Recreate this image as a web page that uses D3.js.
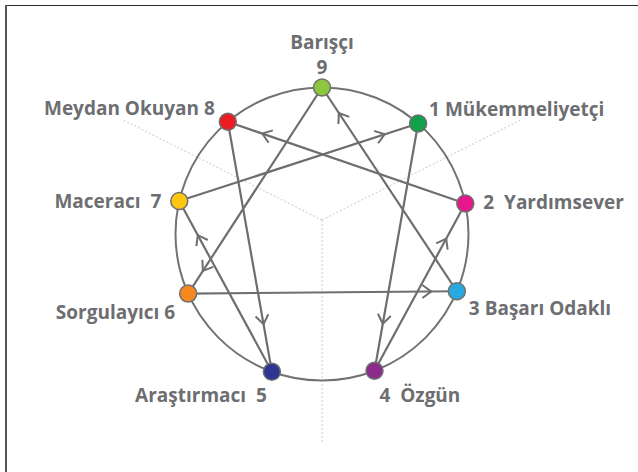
<!DOCTYPE html>
<html>
<head>
<meta charset="utf-8">
<script src="https://cdn.jsdelivr.net/npm/d3@7"></script>
<style>
	body { margin: 0; background: #fff; }
	text { font-family: "Open Sans", sans-serif; font-weight: 700; fill: #6d6e71; white-space: pre; }
</style>
</head>
<body>
<div id="chart"></div>
<script>
// enneagram types, in clockwise order from the top
var typeNo = [9, 1, 2, 3, 4, 5, 6, 7, 8];
var typeLabel = ["Barışçı", "1 Mükemmeliyetçi", "2  Yardımsever", "3 Başarı Odaklı", "4  Özgün",
	"Araştırmacı  5", "Sorgulayıcı 6", "Maceracı  7", "Meydan Okuyan 8"];
var typeAngle = [0, 41, 78, 113, 159, 200, 246, 283, 320]; // degrees, clockwise from top
var typeColor = ["#8dc63f", "#12a04a", "#e8168b", "#2aa9e0", "#8b2b8c", "#2b3592", "#f5891f", "#fdc70f", "#ec1c24"];

// directions of the lines (from -> to) and where the arrow sits along them
var linkFrom = [9, 6, 3, 1, 4, 2, 8, 5, 7];
var linkTo   = [6, 3, 9, 4, 2, 8, 5, 7, 1];
var arrowAt  = [0.89, 0.905, 0.875, 0.81, 0.79, 0.855, 0.81, 0.8, 0.86];

// light guide lines from the centre
var guideAngle = [-63.3, 63.3, 180];

var options = {
	width: 638, height: 472,
	center: { x: 322, y: 234 },
	radius: 146.5,
	guide: { x: 322, y: 220, length: 222 },
	nodeR: 8.5,
	fontSize: "19px"
};

// label placement relative to each node
var labelPos = {
	9: { dx: 0, dy: -39, anchor: "middle" },
	1: { dx: 11, dy: -7, anchor: "start" },
	2: { dx: 18, dy: 5, anchor: "start" },
	3: { dx: 12, dy: 24, anchor: "start" },
	4: { dx: 5, dy: 31, anchor: "start" },
	5: { dx: -5, dy: 30, anchor: "end" },
	6: { dx: -13, dy: 25, anchor: "end" },
	7: { dx: -18, dy: 7, anchor: "end" },
	8: { dx: -13, dy: -7, anchor: "end" }
};

var svg = d3.select("#chart").append("svg")
	.attr("width", options.width)
	.attr("height", options.height);

// frame (top and left)
svg.append("line")
	.attr("x1", 5).attr("y1", 5.5).attr("x2", 638).attr("y2", 5.5)
	.attr("stroke", "#2a2a2a").attr("stroke-width", 1.2);
svg.append("line")
	.attr("x1", 6).attr("y1", 5).attr("x2", 6).attr("y2", 472)
	.attr("stroke", "#555").attr("stroke-width", 2);

var angle = d3.scaleLinear().domain([0, 360]).range([0, 2 * Math.PI]);

var nodes = typeNo.map(function(n, i) {
	var p = d3.pointRadial(angle(typeAngle[i]), options.radius);
	return { no: n, label: typeLabel[i], color: typeColor[i],
		x: options.center.x + p[0], y: options.center.y + p[1] };
});
var byNo = {};
nodes.forEach(function(d) { byNo[d.no] = d; });

var links = linkFrom.map(function(f, i) {
	return { source: byNo[f], target: byNo[linkTo[i]], at: arrowAt[i] };
});

// guides
svg.append("g").selectAll("line")
	.data(guideAngle)
	.enter().append("line")
	.attr("x1", options.guide.x)
	.attr("y1", options.guide.y)
	.attr("x2", function(a) { return options.guide.x + d3.pointRadial(angle(a), options.guide.length)[0]; })
	.attr("y2", function(a) { return options.guide.y + d3.pointRadial(angle(a), options.guide.length)[1]; })
	.attr("stroke", "#d4d4d4")
	.attr("stroke-width", 1.2)
	.attr("stroke-dasharray", "2,2");

// outer circle
svg.append("circle")
	.attr("cx", options.center.x)
	.attr("cy", options.center.y)
	.attr("r", options.radius)
	.attr("fill", "none")
	.attr("stroke", "#727272")
	.attr("stroke-width", 2);

// lines
svg.append("g").selectAll("line")
	.data(links)
	.enter().append("line")
	.attr("x1", function(d) { return d.source.x; })
	.attr("y1", function(d) { return d.source.y; })
	.attr("x2", function(d) { return d.target.x; })
	.attr("y2", function(d) { return d.target.y; })
	.attr("stroke", "#6e6e6e")
	.attr("stroke-width", 2.2);

// arrow heads
svg.append("g").selectAll("path")
	.data(links)
	.enter().append("path")
	.attr("d", "M-9,-6.5L0,0L-9,6.5")
	.attr("transform", function(d) {
		var x = d.source.x + (d.target.x - d.source.x) * d.at,
			y = d.source.y + (d.target.y - d.source.y) * d.at,
			a = Math.atan2(d.target.y - d.source.y, d.target.x - d.source.x) * 180 / Math.PI;
		return "translate(" + x + "," + y + ") rotate(" + a + ")";
	})
	.attr("fill", "none")
	.attr("stroke", "#6e6e6e")
	.attr("stroke-width", 2);

// nodes
svg.append("g").selectAll("circle")
	.data(nodes)
	.enter().append("circle")
	.attr("cx", function(d) { return d.x; })
	.attr("cy", function(d) { return d.y; })
	.attr("r", options.nodeR)
	.attr("fill", function(d) { return d.color; })
	.attr("stroke", "#707070")
	.attr("stroke-width", 1.5);

// labels
svg.append("g").selectAll("text")
	.data(nodes)
	.enter().append("text")
	.attr("x", function(d) { return d.x + labelPos[d.no].dx; })
	.attr("y", function(d) { return d.y + labelPos[d.no].dy; })
	.attr("text-anchor", function(d) { return labelPos[d.no].anchor; })
	.style("font-size", options.fontSize)
	.text(function(d) { return d.label; });

svg.append("text")
	.attr("x", byNo[9].x)
	.attr("y", byNo[9].y - 14)
	.attr("text-anchor", "middle")
	.style("font-size", options.fontSize)
	.text(9);
</script>
</body>
</html>
